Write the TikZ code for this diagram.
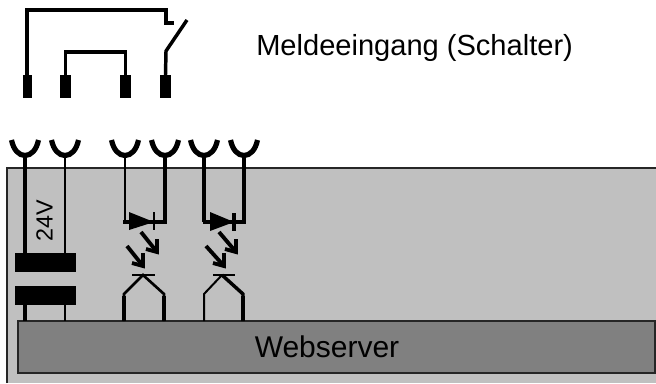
\documentclass[tikz,border=0pt]{standalone}
\usepackage{fontspec}
\setmainfont{Liberation Sans}
\tikzset{
  px/.style={x=0.75pt,y=-0.75pt},
  thin line/.style={line width=1.5pt,black},
  thick line/.style={line width=3pt,black},
  wire/.style={line width=2.6pt,black},
  pin/.style={fill=black,draw=none,inner sep=0pt,minimum height=17.25pt},
  socket/.style={line width=3.9pt,black,line cap=butt},
  core/.style={fill=black,draw=none,inner sep=0pt,minimum width=45.75pt,minimum height=14.25pt},
  diode/.style={fill=black,draw=none},
  ray/.style={line width=2.9pt,black},
}
\newcommand{\sockt}[2]{%
  \coordinate (#1) at (#2,155.5);
  \draw[socket] (#2-13.5,140) .. controls (#2-11.5,150) and (#2-6,155.5) .. (#1) .. controls (#2+6,155.5) and (#2+11.5,150) .. (#2+13.5,140);
}
\newcommand{\rayarrow}[4]{%
  \draw[ray] (#1,#2) -- (#3,#4);
  \draw[ray,line join=miter] (#3-11,#4-3) -- (#3,#4) -- (#3,#4-13);
}
\begin{document}
\begin{tikzpicture}[px]
\useasboundingbox (0,0) rectangle (656,383);
\fill[white] (0,0) rectangle (656,383);
% device body
\path[fill={rgb,255:red,192;green,192;blue,192}] (7,168) rectangle (656,383);
\draw[line width=1.5pt,black!85] (7,383) -- (7,168) -- (656,168);
\node[draw=black!85,line width=1.5pt,fill={rgb,255:red,128;green,128;blue,128},minimum width=477.5pt,minimum height=39pt,inner sep=0pt,outer sep=0pt,font=\fontsize{22.5pt}{26pt}\selectfont] (web) at (336.5,347) {\phantom{Webserver}};
\node[font=\fontsize{22.5pt}{26pt}\selectfont,inner sep=0pt] (webtxt) at (327,347) {Webserver};
% switch contact side
\node[pin,minimum width=6.75pt,anchor=north] (p1) at (27,75) {};
\node[pin,minimum width=8.25pt,anchor=north] (p2) at (65.5,75) {};
\node[pin,minimum width=8.25pt,anchor=north] (p3) at (125.5,75) {};
\node[pin,minimum width=8.25pt,anchor=north] (p4) at (165.5,75) {};
\coordinate (swA) at (166,23);
\coordinate (swB) at (166,51);
\coordinate (swC) at (187,20);
\draw[thick line,miter limit=10] (p1.north) -- (27,10) -- (166,10) -- (swA) -- (174,23);
\draw[wire] (p2.north) -- (65.5,52) -- (125.5,52) -- (p3.north);
\draw[wire] (p4.north) -- (swB) -- (swC);
\node[anchor=west,inner sep=0pt,font=\fontsize{21.8pt}{25pt}\selectfont] (lab) at (256,48) {Meldeeingang (Schalter)};
% sockets
\sockt{s1}{25}\sockt{s2}{65}\sockt{s3}{125}\sockt{s4}{165}\sockt{s5}{204}\sockt{s6}{244}
% supply
\node[core] (t1) at (45.5,262.5) {};
\node[core] (t2) at (45.5,295.5) {};
\draw[thick line] (s1) -- (s1|-t1.north);
\draw[thin line] (s2) -- (s2|-t1.north);
\draw[thick line] (s1|-t2.south) -- (s1|-web.north);
\draw[thin line] (s2|-t2.south) -- (s2|-web.north);
\node[rotate=90,inner sep=0pt,font=\fontsize{17.5pt}{20pt}\selectfont] (v24) at (44.5,221) {24V};
% channel 1
\coordinate (c1a) at (125,222);
\coordinate (c1b) at (165,222);
\draw[thin line] (s3) -- (c1a);
\draw[thick line] (s4) -- (c1b);
\draw[wire] (123,222) -- (c1b) -- (165,220);
\path[diode] (129,212) -- (154,222) -- (129,230) -- cycle;
\draw[thin line] (154,212) -- (154,230);
\rayarrow{141}{232}{157}{252}
\rayarrow{127}{246}{143}{266}
\draw[thin line] (132,275) -- (155,275);
\draw[line width=2pt] (124,321) -- (124,294) -- (143,275) -- (164,294) -- (164,321);
\draw[thick line] (124,296) -- (124,321);
\draw[thick line] (164,296) -- (164,321);
% channel 2
\coordinate (c2a) at (204,222);
\coordinate (c2b) at (244,222);
\draw[thick line] (s5) -- (c2a);
\draw[thick line] (s6) -- (c2b);
\draw[wire] (202.5,222) -- (245.5,222);
\path[diode] (210,212) -- (234,222) -- (210,231) -- cycle;
\draw[thick line] (234,213) -- (234,231);
\rayarrow{219}{232}{236}{252}
\rayarrow{206}{246}{224}{266}
\draw[thin line] (213,275) -- (235,275);
\draw[line width=1.5pt] (204,321) -- (204,294) -- (222,275);
\draw[wire] (222,275) -- (243,294) -- (243,321);
\draw[thick line] (243,296) -- (243,321);
\end{tikzpicture}
\end{document}
